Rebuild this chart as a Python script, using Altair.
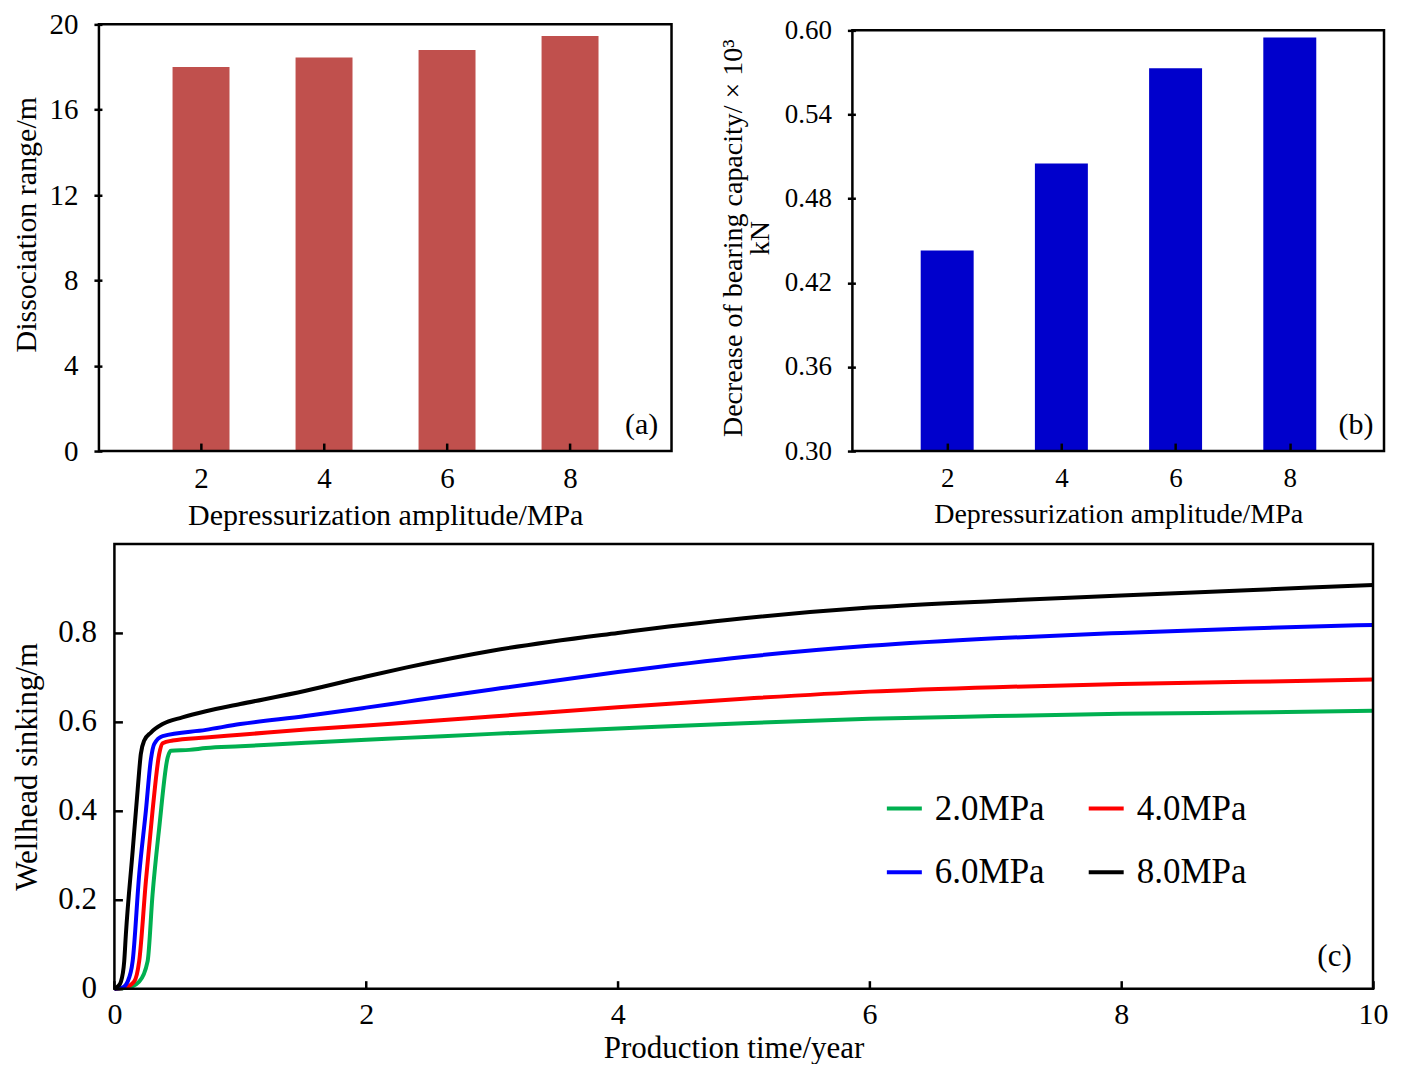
import altair as alt
import pandas as pd

FONT = "Liberation Serif"

# ---------------- data ----------------
amplitude = [2, 4, 6, 8]
dissociation_range = [18.0, 18.45, 18.8, 19.45]
bearing_decrease = [0.443, 0.505, 0.573, 0.595]

a_y_ticks = [0, 4, 8, 12, 16, 20]
b_y_ticks = [0.30, 0.36, 0.42, 0.48, 0.54, 0.60]
amp_ticks = [2, 4, 6, 8]

series_labels = ["2.0MPa", "4.0MPa", "6.0MPa", "8.0MPa"]
series_colors = ["#00B050", "#FF0000", "#0000FF", "#000000"]

t_2 = [0, 0.10, 0.197, 0.264, 0.303, 0.356, 0.423, 0.449, 0.594, 0.727, 1.0, 1.52, 2.0, 2.315, 3.0, 4.0, 5.0, 6.0, 7.0, 8.0, 9.0, 10.0]
v_2 = [0, 0.002, 0.016, 0.062, 0.212, 0.362, 0.520, 0.535, 0.537, 0.541, 0.545, 0.553, 0.560, 0.564, 0.573, 0.585, 0.597, 0.607, 0.613, 0.618, 0.621, 0.625]

t_4 = [0, 0.08, 0.157, 0.197, 0.25, 0.303, 0.356, 0.383, 0.462, 0.727, 1.0, 1.52, 2.0, 2.315, 3.0, 4.0, 5.0, 6.0, 7.0, 8.0, 9.0, 10.0]
v_4 = [0, 0.002, 0.016, 0.062, 0.242, 0.400, 0.528, 0.552, 0.558, 0.565, 0.571, 0.583, 0.592, 0.598, 0.612, 0.633, 0.652, 0.668, 0.678, 0.685, 0.690, 0.695]

t_6 = [0, 0.06, 0.105, 0.145, 0.197, 0.25, 0.29, 0.316, 0.383, 0.727, 1.0, 1.52, 2.0, 2.315, 3.0, 4.0, 5.0, 6.0, 7.0, 8.0, 9.0, 10.0]
v_6 = [0, 0.002, 0.016, 0.062, 0.257, 0.400, 0.516, 0.550, 0.568, 0.582, 0.595, 0.613, 0.632, 0.645, 0.673, 0.712, 0.746, 0.771, 0.788, 0.800, 0.810, 0.818]

t_8 = [0, 0.03, 0.052, 0.078, 0.091, 0.145, 0.184, 0.21, 0.237, 0.29, 0.383, 0.54, 0.727, 1.0, 1.52, 2.0, 2.315, 3.0, 4.0, 5.0, 6.0, 7.0, 8.0, 9.0, 10.0]
v_8 = [0, 0.006, 0.016, 0.062, 0.122, 0.310, 0.445, 0.528, 0.558, 0.576, 0.595, 0.610, 0.624, 0.640, 0.670, 0.702, 0.722, 0.760, 0.800, 0.833, 0.857, 0.872, 0.884, 0.896, 0.908]

c_x_ticks = [0, 2, 4, 6, 8, 10]
c_y_ticks = [0, 0.2, 0.4, 0.6, 0.8]

# axis ranges (frame of each panel)
a_x_range = [0.34, 9.65]
a_y_range = [0, 20]
b_x_range = [0.34, 9.65]
b_y_range = [0.30, 0.60]
c_x_range = [0, 10]
c_y_range = [0, 1]

# ---------------- tables ----------------
bars_df = pd.DataFrame({"amp": amplitude, "range": dissociation_range, "bearing": bearing_decrease})
rows = []
for lab, ts, vs in zip(series_labels, [t_2, t_4, t_6, t_8], [v_2, v_4, v_6, v_8]):
    for t, v in zip(ts, vs):
        rows.append({"series": lab, "t": t, "v": v})
lines_df = pd.DataFrame(rows)
one_row = pd.DataFrame({"k": [0]})

TICK = 8


def axis(values, lsize, tsize, lpad, tpad, title, offset=-TICK, **kw):
    args = dict(
        values=values, offset=offset, tickSize=TICK, tickWidth=2.5, tickColor="black",
        domain=False, grid=False, labelFont=FONT, labelFontSize=lsize, labelColor="black",
        labelPadding=lpad, labelFlush=False, title=title, titleFont=FONT, titleFontSize=tsize,
        titleFontWeight="normal", titleColor="black", titlePadding=tpad, zindex=1,
    )
    args.update(kw)
    return alt.Axis(**args)


def panel_label(text, x, y, size):
    return alt.Chart(pd.DataFrame({"lab": [text]})).mark_text(
        font=FONT, fontSize=size, color="black", align="center", baseline="middle"
    ).encode(text="lab:N", x=alt.value(x), y=alt.value(y))


def frame(xr, yr):
    return alt.Chart(one_row).mark_rect(
        fillOpacity=0, stroke="black", strokeWidth=2.5
    ).encode(
        x=alt.datum(xr[0]), x2=alt.datum(xr[1]),
        y=alt.datum(yr[0]), y2=alt.datum(yr[1]),
    )


# ---------------- panel (a) ----------------
a_bars = alt.Chart(bars_df).mark_bar(size=57, color="#C0504D").encode(
    x=alt.X("amp:Q", scale=alt.Scale(domain=a_x_range, nice=False, zero=False),
            axis=axis(amp_ticks, 29, 30, 13, 7, "Depressurization amplitude/MPa", format="d")),
    y=alt.Y("range:Q", scale=alt.Scale(domain=a_y_range, nice=False),
            axis=axis(a_y_ticks, 29, 30, 16, 7, "Dissociation range/m", format="d",
                      titleY=200)),
)
panel_a = alt.layer(a_bars, frame(a_x_range, a_y_range),
                    panel_label("(a)", 548, 401, 30)).properties(width=583, height=427)

# ---------------- panel (b) ----------------
# plot area extends 6 px above the frame so that the frame top sits lower than (a)
b_top = b_y_range[1] + 6 / 421 * (b_y_range[1] - b_y_range[0])
b_bars = alt.Chart(bars_df).mark_bar(size=53, color="#0000CC", clip=True).encode(
    x=alt.X("amp:Q", scale=alt.Scale(domain=b_x_range, nice=False, zero=False),
            axis=axis(amp_ticks, 27, 28, 14, 9, "Depressurization amplitude/MPa", format="d")),
    y=alt.Y("bearing:Q", scale=alt.Scale(domain=[b_y_range[0], b_top], nice=False, zero=False),
            axis=axis(b_y_ticks, 27, 28, 16, 10,
                      ["Decrease of bearing capacity/ \u00d7 10\u00b3", "kN"],
                      format=".2f", titleLineHeight=27)),
)
panel_b = alt.layer(b_bars, frame(b_x_range, b_y_range),
                    panel_label("(b)", 509, 401, 30)).properties(width=542, height=427)

# ---------------- panel (c) ----------------
# plot area extends 20.5 px left of the frame
c_px = 1260 / 10
c_left = -20.5 / c_px
c_lines = alt.Chart(lines_df).mark_line(strokeWidth=4, interpolate="monotone").encode(
    x=alt.X("t:Q", scale=alt.Scale(domain=[c_left, c_x_range[1]], nice=False, zero=False),
            axis=axis(c_x_ticks, 30, 31, 11, 4, "Production time/year", format="d")),
    y=alt.Y("v:Q", scale=alt.Scale(domain=c_y_range, nice=False),
            axis=axis(c_y_ticks, 31, 31, 18, 14, "Wellhead sinking/m",
                      offset=-(TICK + 20.5),
                      labelExpr="datum.value == 0 ? '0' : format(datum.value, '.1f')")),
    color=alt.Color(
        "series:N",
        scale=alt.Scale(domain=series_labels, range=series_colors),
        legend=alt.Legend(
            orient="none", legendX=791.5, legendY=245, columns=2, direction="horizontal",
            title=None, labelFont=FONT, labelFontSize=35, labelColor="black", labelOffset=11,
            symbolType="stroke", symbolSize=1225, symbolStrokeWidth=4,
            rowPadding=26, columnPadding=36, padding=0,
        ),
    ),
    detail="series:N",
)
panel_c = alt.layer(c_lines, frame(c_x_range, c_y_range),
                    panel_label("(c)", 1241.5, 413, 31)).properties(width=1280, height=445)

top = alt.hconcat(panel_a, panel_b, spacing=42)
chart = alt.vconcat(top, panel_c, spacing=12).resolve_legend(color="independent").properties(
    padding={"left": 3, "top": 2, "right": 5, "bottom": 0}
).configure(font=FONT).configure_view(stroke=None)

chart.save("out.html", embed_options={"renderer": "svg", "actions": False})
